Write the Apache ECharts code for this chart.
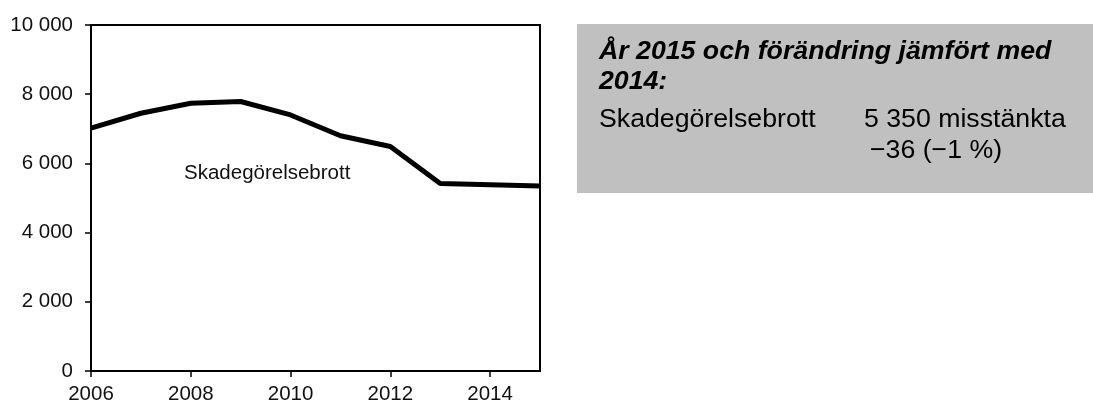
<!DOCTYPE html>
<html>
<head>
<meta charset="utf-8">
<script src="https://cdn.jsdelivr.net/npm/echarts@6/dist/echarts.min.js"></script>
<style>
  html, body { margin: 0; padding: 0; background: #fff; }
  #chart { width: 1093px; height: 405px; }
</style>
</head>
<body>
<div id="chart"></div>
<script>
// data
var years = [2006, 2007, 2008, 2009, 2010, 2011, 2012, 2013, 2014, 2015]
var suspects = [7020, 7450, 7740, 7790, 7400, 6800, 6490, 5420, 5386, 5350]
var seriesName = 'Skadegörelsebrott'
var boxTitle = ['År 2015 och förändring jämfört med', '2014:']
var boxRows = ['Skadegörelsebrott', '5 350 misstänkta', '\u221236 (\u22121 %)']

var font = 'Liberation Sans, Arial, sans-serif'

function spaced (v) {
  // 10000 -> "10 000"
  return String(v).replace(/\B(?=(\d{3})+(?!\d))/g, ' ')
}

var chart = echarts.init(document.getElementById('chart'))
chart.setOption({
  animation: false,
  grid: {
    left: 91,
    right: 553,
    top: 25,
    bottom: 33,
    show: true,
    borderColor: '#000',
    borderWidth: 2
  },
  xAxis: {
    type: 'value',
    min: 2006,
    max: 2015,
    interval: 2,
    axisLine: { show: true, lineStyle: { color: '#000', width: 2 } },
    axisTick: { show: true, length: 6, lineStyle: { color: '#000', width: 1.5 } },
    axisLabel: {
      color: '#111',
      fontFamily: font,
      fontSize: 20.5,
      margin: 13,
      showMaxLabel: false,
      formatter: function (v) { return v === 2015 ? '' : String(v) }
    },
    splitLine: { show: false }
  },
  yAxis: {
    type: 'value',
    min: 0,
    max: 10000,
    interval: 2000,
    axisLine: { show: true, lineStyle: { color: '#000', width: 2 } },
    axisTick: { show: true, length: 6, lineStyle: { color: '#000', width: 1.5 } },
    axisLabel: {
      color: '#111',
      fontFamily: font,
      fontSize: 20.5,
      margin: 18,
      formatter: spaced
    },
    splitLine: { show: false }
  },
  series: [
    {
      name: seriesName,
      type: 'line',
      data: years.map(function (y, i) { return [y, suspects[i]] }),
      symbol: 'none',
      lineStyle: { color: '#000', width: 5 }
    }
  ],
  graphic: [
    {
      type: 'text',
      x: 184,
      y: 173,
      style: { text: seriesName, font: '20.5px ' + font, fill: '#111', verticalAlign: 'middle' }
    },
    {
      type: 'rect',
      shape: { x: 577, y: 24, width: 516, height: 169 },
      style: { fill: '#c0c0c0' }
    },
    {
      type: 'text',
      x: 599, y: 52,
      style: { text: boxTitle[0], font: 'italic bold 26.7px ' + font, fill: '#000', verticalAlign: 'middle' }
    },
    {
      type: 'text',
      x: 599, y: 82,
      style: { text: boxTitle[1], font: 'italic bold 26.7px ' + font, fill: '#000', verticalAlign: 'middle' }
    },
    {
      type: 'text',
      x: 599, y: 120,
      style: { text: boxRows[0], font: '26.7px ' + font, fill: '#000', verticalAlign: 'middle' }
    },
    {
      type: 'text',
      x: 864, y: 120,
      style: { text: boxRows[1], font: '26.7px ' + font, fill: '#000', verticalAlign: 'middle' }
    },
    {
      type: 'text',
      x: 870, y: 151,
      style: { text: boxRows[2], font: '26.7px ' + font, fill: '#000', verticalAlign: 'middle' }
    }
  ]
})
</script>
</body>
</html>
